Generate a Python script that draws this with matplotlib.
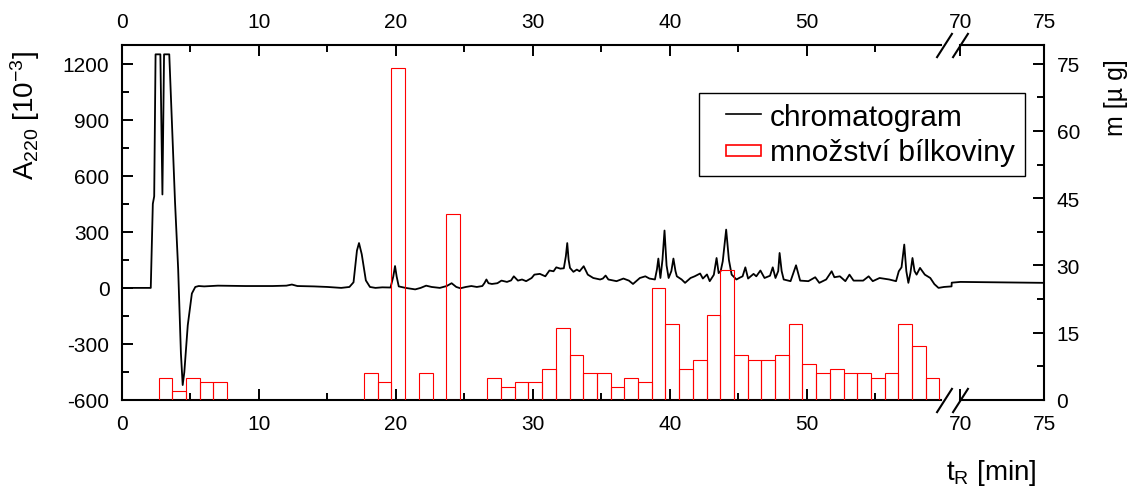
import numpy as np
import matplotlib
matplotlib.use("Agg")
import matplotlib.pyplot as plt
from matplotlib.lines import Line2D
from matplotlib.patches import Rectangle
from matplotlib.legend_handler import HandlerPatch, HandlerLine2D
from matplotlib.ticker import FixedLocator

plt.rcParams['font.family'] = ['Liberation Sans', 'DejaVu Sans']
plt.rcParams['mathtext.fontset'] = 'custom'
plt.rcParams['mathtext.rm'] = 'Liberation Sans'
plt.rcParams['mathtext.it'] = 'Liberation Sans:italic'
plt.rcParams['mathtext.default'] = 'regular'
plt.rcParams['axes.unicode_minus'] = False

# ---------------- data ----------------
# chromatogram (time in min, absorbance A220 x 10^-3)
chrom_t = [0, 2.1, 2.25, 2.35, 2.45, 2.8, 2.95, 3.07, 3.45, 3.7, 3.87, 4.1, 4.3, 4.43, 4.55,
           4.8, 5.1, 5.35, 5.6, 6.0, 7, 9, 11, 12, 12.4, 12.8, 14, 15, 16.0, 16.6, 16.9,
           17.15, 17.3, 17.5, 17.8, 18.1, 18.5, 19, 19.6, 19.8, 19.93, 20.05, 20.2, 20.7,
           21.4, 21.8, 22.2, 22.6, 23.2, 23.7, 24.06, 24.4, 24.7, 25.1, 25.5, 25.9, 26.3,
           26.45, 26.6, 26.75, 27.0, 27.4, 27.7, 28.1, 28.4, 28.6, 28.9, 29.2, 29.5, 29.9,
           30.1, 30.5, 30.9, 31.2, 31.5, 31.7, 32.0, 32.25, 32.4, 32.5, 32.6, 32.7, 32.95,
           33.2, 33.4, 33.7, 34.0, 34.4, 34.9, 35.1, 35.3, 35.5, 36.1, 36.6, 37.0, 37.3,
           37.8, 38.2, 38.5, 38.9, 39.05, 39.15, 39.3, 39.45, 39.6, 39.75, 39.9, 40.1,
           40.25, 40.4, 40.5, 40.85, 41.1, 41.5, 41.8, 42.2, 42.4, 42.7, 42.9, 43.2, 43.4,
           43.55, 43.7, 43.85, 44.1, 44.3, 44.5, 44.85, 45.1, 45.3, 45.5, 45.7, 46.1, 46.3,
           46.6, 46.9, 47.3, 47.5, 47.7, 47.9, 48.0, 48.15, 48.3, 48.8, 49.2, 49.5, 50.1,
           50.6, 50.9, 51.4, 51.8, 52.0, 52.4, 52.8, 53.1, 53.4, 54.1, 54.5, 54.8, 55.3,
           56.0, 56.5, 56.7, 56.9, 57.1, 57.25, 57.4, 57.55, 57.7, 57.85, 58.0, 58.25,
           58.6, 59.0, 59.3, 59.6, 60.0, 64.6, 64.7, 70, 72, 75]
chrom_a = [0, 0, 450, 490, 1250, 1250, 500, 1250, 1250, 780, 460, 100, -350, -520, -450,
           -200, -30, 5, 10, 8, 12, 10, 10, 12, 18, 10, 8, 5, 0, 5, 30,
           200, 240, 180, 40, 5, 0, 3, 2, 60, 117, 60, 8, 0,
           -8, 0, 12, 5, 0, 10, 25, 5, -2, 5, 10, 5, 10,
           25, 45, 25, 21, 25, 39, 32, 40, 62, 39, 45, 36, 53,
           71, 75, 62, 93, 89, 110, 103, 105, 170, 240, 150, 107, 86,
           98, 89, 116, 71, 53, 45, 50, 66, 45, 36, 50, 39, 21,
           53, 62, 50, 45, 100, 157, 53, 150, 307, 120, 53, 90,
           157, 90, 62, 45, 27, 53, 62, 77, 50, 72, 36, 70, 160,
           79, 90, 142, 312, 150, 71, 45, 55, 62, 110, 50, 75, 62,
           93, 53, 65, 110, 53, 90, 187, 90, 45, 36, 121, 39, 36,
           57, 27, 45, 89, 57, 62, 36, 71, 39, 39, 62, 36, 53,
           45, 36, 89, 110, 232, 90, 27, 80, 160, 90, 71, 107,
           71, 53, 20, 0, 5, 8, 28, 32, 30, 27]

# protein amount per collected fraction (start of fraction in min, amount in ug)
frac_start = [2.67, 3.67, 4.67, 5.67, 6.67,
              17.67, 18.67, 19.67, 21.67, 23.67,
              26.67, 27.67, 28.67, 29.67, 30.67, 31.67, 32.67, 33.67, 34.67, 35.67,
              36.67, 37.67, 38.67, 39.67, 40.67, 41.67, 42.67, 43.67, 44.67, 45.67,
              46.67, 47.67, 48.67, 49.67, 50.67, 51.67, 52.67, 53.67, 54.67, 55.67,
              56.67, 57.67, 58.67]
frac_amount = [5, 2, 5, 4, 4,
               6, 4, 74, 6, 41.5,
               5, 3, 4, 4, 7, 16, 10, 6, 6, 3,
               5, 4, 25, 17, 7, 9, 19, 29, 10, 9,
               9, 10, 17, 8, 6, 7, 6, 6, 5, 6,
               17, 12, 5]

x_major = [0, 10, 20, 30, 40, 50, 70, 75]
x_minor = [5, 15, 25, 35, 45, 55]
y_left_major = [-600, -300, 0, 300, 600, 900, 1200]
y_right_major = [0, 15, 30, 45, 60, 75]


# broken time axis: 60-70 min compressed
def fwd(t):
    t = np.asarray(t, dtype=float)
    return np.where(t <= 60, t, np.where(t <= 70, 60 + (t - 60) * 0.12, 61.2 + (t - 70) * 1.22))


def inv(d):
    d = np.asarray(d, dtype=float)
    return np.where(d <= 60, d, np.where(d <= 61.2, 60 + (d - 60) / 0.12, 70 + (d - 61.2) / 1.22))


W, H = 1136, 489
fig = plt.figure(figsize=(W / 100, H / 100), dpi=100)
ax = fig.add_axes([122 / W, (H - 401) / H, 922 / W, 355 / H])
ax.set_xscale('function', functions=(fwd, inv))
ax.set_xlim(0, 75)
ax.set_ylim(-600, 1300)

ax.plot(chrom_t, chrom_a, color='black', lw=1.3, zorder=3)

ax2 = ax.twinx()
ax2.set_ylim(0, 1900 / 24)
bars = ax2.bar(frac_start, frac_amount, width=1.0, align='edge', fill=False,
               edgecolor='#ff0000', linewidth=0.8)

# ticks
ax.xaxis.set_major_locator(FixedLocator(x_major))
ax.xaxis.set_minor_locator(FixedLocator(x_minor))
ax.yaxis.set_major_locator(FixedLocator(y_left_major))
ax.yaxis.set_minor_locator(FixedLocator(list(np.arange(-450, 1300, 300))))
ax2.yaxis.set_major_locator(FixedLocator(y_right_major))
ax2.yaxis.set_minor_locator(FixedLocator(list(np.arange(7.5, 79, 15))))

ax.tick_params(axis='x', which='both', direction='in', top=True, bottom=True,
               labeltop=True, labelbottom=True, labelsize=15, pad=10, width=1.4)
ax.tick_params(axis='y', which='both', direction='in', left=True, right=False,
               labelsize=15, pad=9, width=1.4)
ax2.tick_params(axis='y', which='both', direction='in', right=True, left=False,
                labelsize=15, pad=9, width=1.4)
for a in (ax, ax2):
    a.tick_params(which='major', length=8)
    a.tick_params(which='minor', length=5)

# spines
for s in ('top', 'bottom', 'left'):
    ax2.spines[s].set_visible(False)
ax.spines['right'].set_visible(False)
for s in ('top', 'bottom'):
    ax.spines[s].set_bounds(0, 59.8)
for sp in list(ax.spines.values()) + [ax2.spines['right']]:
    sp.set_linewidth(1.5)
xt = ax.get_xaxis_transform()
for yy in (0, 1):
    ax.plot([69.7, 75], [yy, yy], transform=xt, color='black', lw=1.5,
            clip_on=False, solid_capstyle='projecting', zorder=5)
# break marks
ax.plot([60, 70, 60, 70], [0, 0, 1, 1], transform=xt, linestyle='none',
        marker=[(-0.64, -1), (0.64, 1)], markersize=18, markeredgewidth=1.5,
        color='black', clip_on=False, zorder=6)

# labels
fig.text(25 / W, 1 - 115 / H, r"A$_{220}$ [10$^{-3}$]", rotation=90, ha='center',
         va='center', fontsize=20)
fig.text(1116 / W, 1 - 98 / H, "m [µ g]", rotation=90, ha='center', va='center',
         fontsize=18)
fig.text(991 / W, 1 - 480 / H, r"t$_R$ [min]", ha='center', va='baseline', fontsize=20)


# legend with handles offset to the right
class OffsetLine(HandlerLine2D):
    def create_artists(self, legend, orig_handle, xdescent, ydescent, width, height,
                       fontsize, trans):
        ln = Line2D([width / 3 - xdescent, width - xdescent],
                    [height / 2 - ydescent] * 2)
        self.update_prop(ln, orig_handle, legend)
        ln.set_transform(trans)
        return [ln]


def rect_func(legend, orig_handle, xdescent, ydescent, width, height, fontsize):
    return Rectangle((-xdescent + width / 3, -ydescent + height * 0.22),
                     width * 2 / 3, height * 0.5)


line_h = Line2D([], [], color='black', lw=1.2)
rect_h = Rectangle((0, 0), 1, 1, fill=False, edgecolor='#ff0000', lw=1.2)
leg = ax2.legend([line_h, rect_h], ['chromatogram', 'množství bílkoviny'],
                 loc='upper right', bbox_to_anchor=(0.979, 0.865), borderaxespad=0,
                 fontsize=21.5, handlelength=1.75, handletextpad=0.3, labelspacing=0.25,
                 borderpad=0.33, fancybox=False, framealpha=1, edgecolor='black',
                 handler_map={Line2D: OffsetLine(), Rectangle: HandlerPatch(patch_func=rect_func)})
leg.get_frame().set_linewidth(1.0)

fig.savefig('out.png', dpi=100)
